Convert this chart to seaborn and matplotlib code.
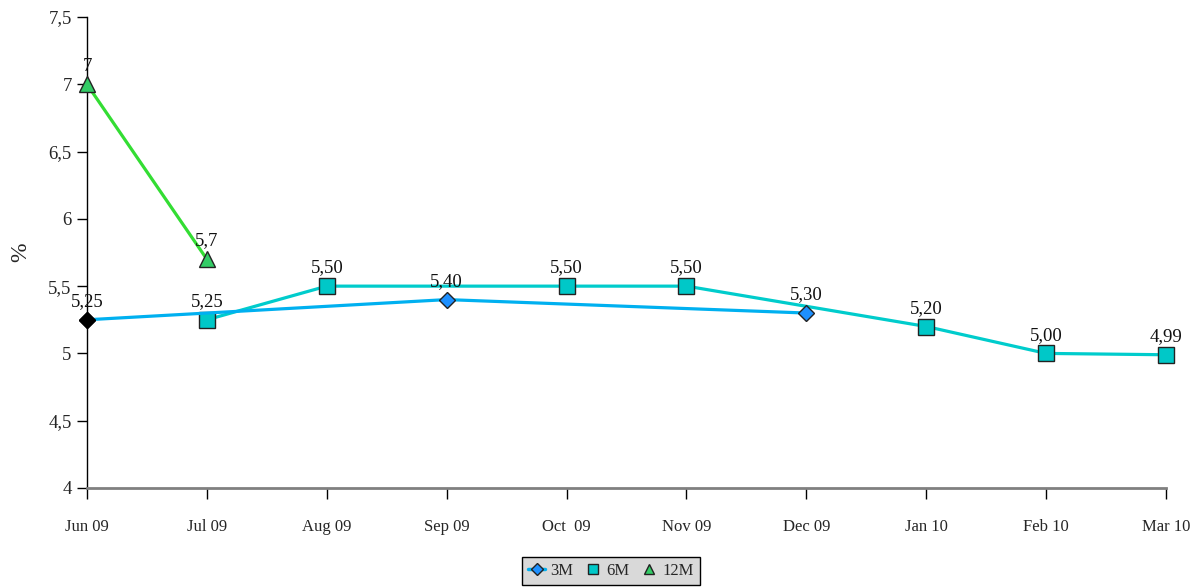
import numpy as np
import pandas as pd
import matplotlib
matplotlib.use("Agg")
import matplotlib.pyplot as plt
from matplotlib.lines import Line2D
import seaborn as sns

categories = ["Jun 09", "Jul 09", "Aug 09", "Sep 09", "Oct  09", "Nov 09", "Dec 09", "Jan 10", "Feb 10", "Mar 10"]
s3m = [5.25, np.nan, np.nan, 5.40, np.nan, np.nan, 5.30, np.nan, np.nan, np.nan]
s6m = [np.nan, 5.25, 5.50, np.nan, 5.50, 5.50, np.nan, 5.20, 5.00, 4.99]
s12m = [7.0, 5.7, np.nan, np.nan, np.nan, np.nan, np.nan, np.nan, np.nan, np.nan]
lab3m = ["5,25", "", "", "5,40", "", "", "5,30", "", "", ""]
lab6m = ["", "5,25", "5,50", "", "5,50", "5,50", "", "5,20", "5,00", "4,99"]
lab12m = ["7", "5,7", "", "", "", "", "", "", "", ""]
yticks = [4, 4.5, 5, 5.5, 6, 6.5, 7, 7.5]
ytick_labels = ["4", "4,5", "5", "5,5", "6", "6,5", "7", "7,5"]

sns.set_theme(style="white")
plt.rcParams['font.family'] = ['Liberation Serif', 'DejaVu Serif']

df = pd.DataFrame({"pos": np.arange(len(categories)), "cat": categories,
                   "3M": s3m, "6M": s6m, "12M": s12m})

fig = plt.figure(figsize=(11.96, 5.87), dpi=100)
ax = fig.add_axes([0.0727, 0.1687, 0.9023, 0.8023])

c3 = "#00B0F0"; c3m = "#1E90FF"
c6 = "#00CCCC"; c6m = "#00C8C8"
c12 = "#33DD33"; c12m = "#33CC66"

d6 = df.dropna(subset=["6M"])
sns.lineplot(data=d6, x="pos", y="6M", ax=ax, color=c6, linewidth=2.3, marker="s",
             markersize=11, markerfacecolor=c6m, markeredgecolor="#222222", markeredgewidth=1,
             zorder=3, clip_on=False)
d3 = df.dropna(subset=["3M"])
sns.lineplot(data=d3, x="pos", y="3M", ax=ax, color=c3, linewidth=2.3, marker="D",
             markersize=8.5, markerfacecolor=c3m, markeredgecolor="#222222", markeredgewidth=1,
             zorder=4, clip_on=False)
# first 3M point black
ax.plot(d3["pos"].iloc[:1], d3["3M"].iloc[:1], marker="D", markersize=8.5, color="black",
        linestyle="none", zorder=5, clip_on=False)
d12 = df.dropna(subset=["12M"])
sns.lineplot(data=d12, x="pos", y="12M", ax=ax, color=c12, linewidth=2.3, marker="^",
             markersize=12, markerfacecolor=c12m, markeredgecolor="#222222", markeredgewidth=1,
             zorder=4, clip_on=False)

for col, labs in (("3M", lab3m), ("6M", lab6m), ("12M", lab12m)):
    for p, v, t in zip(df["pos"], df[col], labs):
        if t and not np.isnan(v):
            ax.annotate(t, (p, v), xytext=(0, 7), textcoords="offset points",
                        ha="center", va="bottom", fontsize=13.5, color="#111111", zorder=6)

ax.set_xlim(0, len(categories) - 1)
ax.set_ylim(4, 7.5)
ax.set_xticks(df["pos"])
ax.set_xticklabels(categories, fontsize=12)
ax.set_yticks(yticks)
ax.set_yticklabels(ytick_labels, fontsize=13.5)
ax.set_xlabel("")
ax.set_ylabel("%", fontsize=17, labelpad=12)
ax.tick_params(axis="x", direction="out", length=8, width=1, color="black", pad=14, bottom=True)
ax.tick_params(axis="y", direction="out", length=7, width=1, color="black", pad=4, left=True)
for s in ("top", "right"):
    ax.spines[s].set_visible(False)
ax.spines["left"].set_color("black")
ax.spines["left"].set_linewidth(1)
ax.spines["bottom"].set_color("#808080")
ax.spines["bottom"].set_linewidth(2)
ax.set_facecolor("white")

handles = [
    Line2D([0], [0], color=c3, linewidth=2.5, marker="D", markersize=6, markerfacecolor=c3m, markeredgecolor="#222222"),
    Line2D([0], [0], color=c6, linestyle="none", marker="s", markersize=7, markerfacecolor=c6m, markeredgecolor="#222222"),
    Line2D([0], [0], color=c12, linestyle="none", marker="^", markersize=7, markerfacecolor=c12m, markeredgecolor="#222222"),
]
leg = fig.legend(handles, ["3M", "6M", "12M"], loc="upper center", bbox_to_anchor=(0.511, 0.053 + 0.012),
                 ncol=3, fontsize=12, frameon=True, fancybox=False, handlelength=1.0,
                 handletextpad=0.3, columnspacing=0.7, borderpad=0.35)
leg.get_frame().set_facecolor("#d9d9d9")
leg.get_frame().set_edgecolor("black")
leg.get_frame().set_linewidth(1)
leg.get_frame().set_alpha(1)

fig.savefig("out.png", dpi=100)
